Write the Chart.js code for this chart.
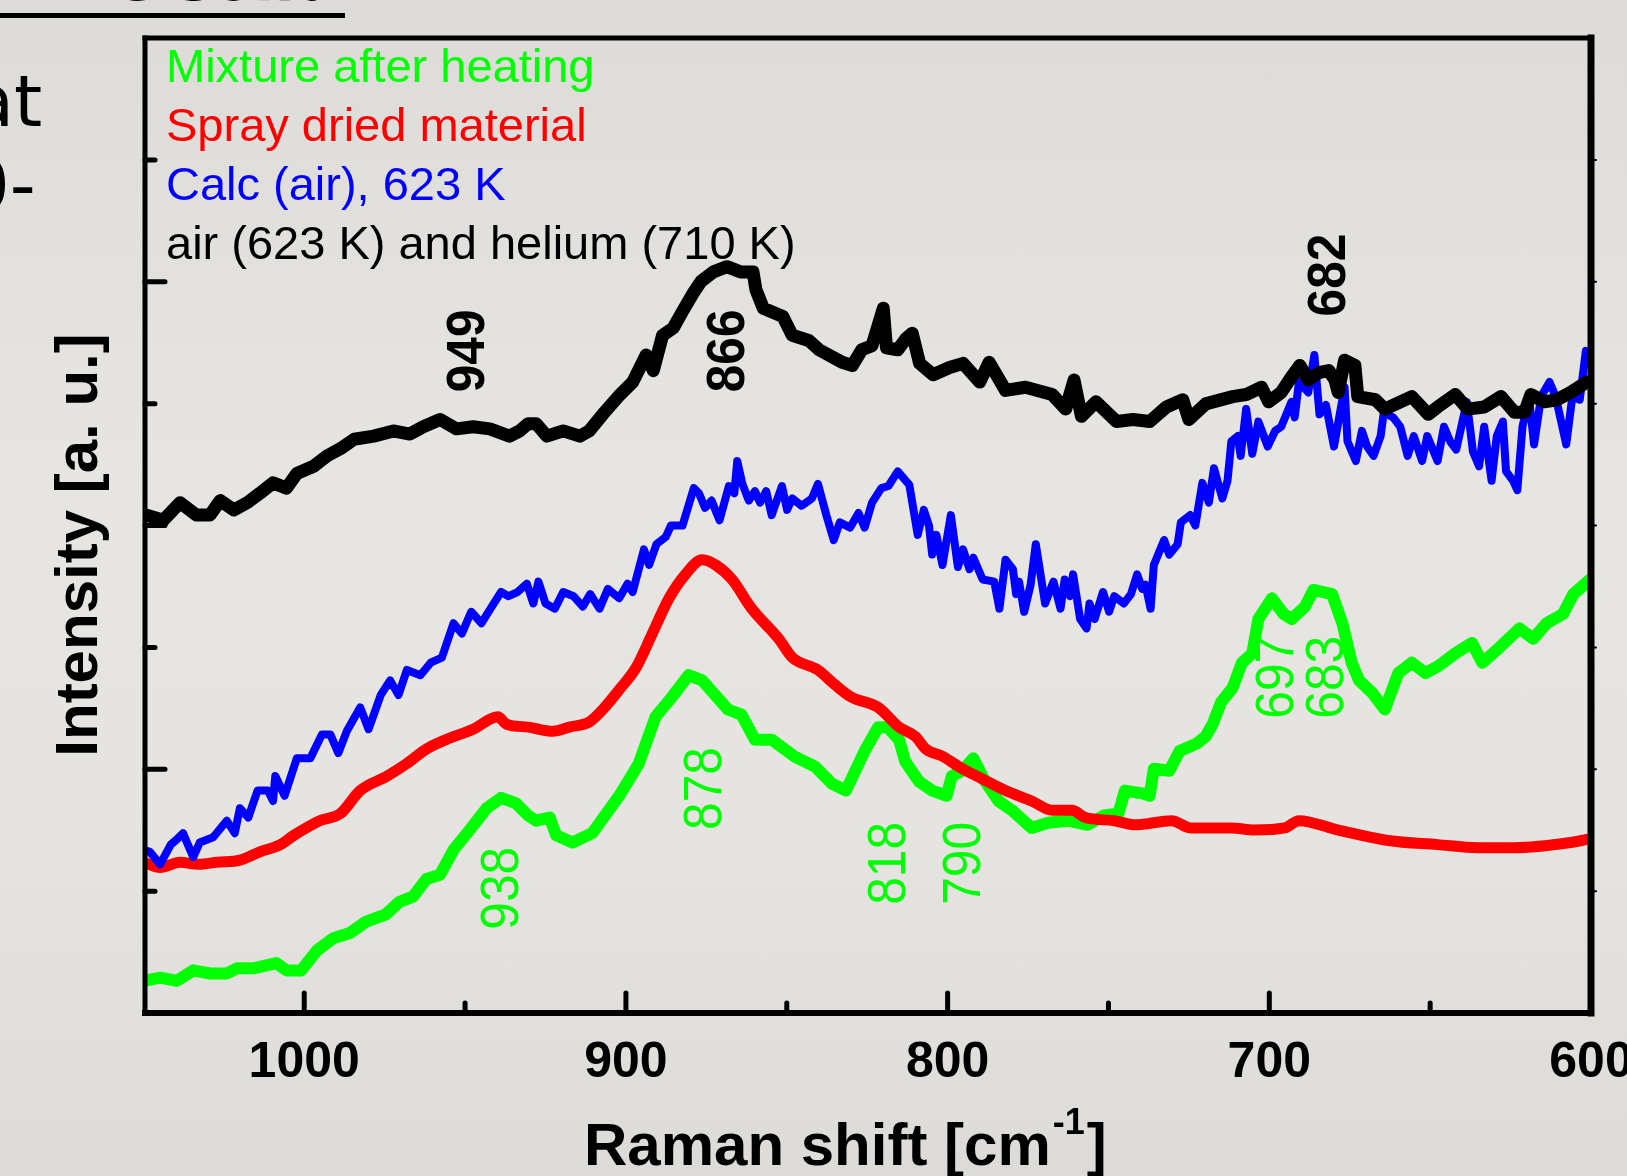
<!DOCTYPE html>
<html>
<head>
<meta charset="utf-8">
<script src="https://cdn.jsdelivr.net/npm/chart.js@4.4.1/dist/chart.umd.min.js"></script>
<style>
html,body{margin:0;padding:0;}
body{width:1627px;height:1176px;overflow:hidden;position:relative;
  background:linear-gradient(to bottom,#dcdbd7 0%,#e6e5e2 40%,#e5e4e1 70%,#dcdbd7 100%);}
#wrap{position:absolute;left:0;top:0;width:1627px;height:1176px;}
.slide{position:absolute;color:#000;font-family:"DejaVu Sans",sans-serif;white-space:nowrap;line-height:70px;}
</style>
</head>
<body>
<div class="slide" style="left:44px;top:-56px;font-size:60px;font-weight:bold;">the solid</div>
<div style="position:absolute;left:0;top:13px;width:345px;height:5px;background:#000;"></div>
<div class="slide" style="left:-30px;top:66px;font-size:72px;">at</div>
<div class="slide" style="left:-36px;top:150px;font-size:72px;">0-</div>
<div id="wrap"><canvas id="chart-raman"></canvas></div>
<script>
// legend order (top to bottom in the plot)
const seriesNames = ['Mixture after heating', 'Spray dried material', 'Calc (air), 623 K', 'air (623 K) and helium (710 K)'];

// air (623 K) and helium (710 K)
const airShift = [1049.0,1043.8,1038.6,1033.5,1029.3,1026.1,1021.9,1017.7,1013.8,1009.7,1005.5,1002.3,997.1,992.9,988.7,984.5,978.4,972.3,967.2,963.0,957.8,952.7,947.5,942.3,936.2,933.0,930.4,927.9,924.6,919.5,914.3,911.4,907.2,901.8,897.9,893.7,891.5,888.6,885.3,882.4,879.2,876.6,872.8,868.6,864.4,860.5,859.6,857.3,851.2,848.3,843.2,839.9,832.8,829.6,826.7,823.5,820.0,819.0,815.5,812.9,811.0,808.7,804.5,799.4,795.2,790.0,787.1,782.0,775.8,767.5,763.3,760.7,758.4,753.9,747.5,742.4,737.2,732.0,726.9,725.0,719.8,711.4,707.2,702.4,700.2,696.3,693.1,690.5,687.9,684.7,681.5,679.6,678.6,676.6,673.4,672.5,667.0,664.1,655.7,650.6,647.7,642.2,638.3,633.2,628.0,623.8,620.6,618.7,614.5,610.6,606.4,601.3];
const airInt = [479,474,491,479,479,493,484,491,500,510,505,519,526,536,543,552,555,560,557,564,571,562,564,562,555,560,567,567,555,560,555,560,576,595,607,633,618,652,659,675,692,704,713,718,713,713,696,678,670,652,647,638,626,623,638,642,678,640,638,649,654,625,614,621,625,607,626,599,602,595,581,609,574,588,569,571,569,583,590,571,586,593,595,602,588,597,612,623,609,616,618,609,597,628,623,593,590,581,593,576,583,595,581,583,593,578,578,595,588,590,597,607];

// Calc (air), 623 K
const calcShift = [1049.9,1048.0,1044.8,1041.5,1039.6,1037.7,1034.5,1032.5,1028.3,1024.1,1021.6,1020.0,1017.4,1014.5,1011.3,1009.7,1009.0,1006.1,1002.3,998.1,994.5,991.9,989.4,986.8,982.6,980.0,976.2,973.3,970.7,968.1,963.9,960.7,957.2,953.6,951.0,948.1,944.9,941.7,938.8,936.5,933.7,930.8,928.8,927.2,925.0,922.1,919.5,916.3,913.4,911.1,908.2,905.6,902.1,899.5,897.9,894.4,892.8,890.5,887.6,886.0,882.4,878.9,877.3,875.4,873.4,870.9,868.0,866.3,865.4,863.8,861.8,859.9,858.3,856.4,854.7,851.5,849.9,848.3,845.4,842.2,840.3,837.7,835.4,833.5,830.3,827.7,825.8,823.5,820.6,818.4,815.5,811.9,809.3,807.4,805.8,804.8,803.5,801.6,799.0,796.8,795.2,793.2,792.0,789.1,785.5,783.9,782.0,779.7,778.7,777.8,776.2,774.2,772.6,769.7,767.1,764.9,763.6,762.0,761.0,758.8,756.8,755.9,754.3,751.7,749.8,748.2,745.2,743.0,741.1,739.5,738.5,736.9,735.9,732.7,731.1,728.5,727.5,724.6,723.0,720.8,718.8,717.2,714.6,713.0,711.8,709.8,708.9,707.2,705.3,703.4,700.5,698.2,696.3,693.1,692.1,690.8,687.9,686.0,684.4,682.4,679.9,676.6,675.7,673.1,671.2,669.6,667.6,665.4,664.4,661.5,659.3,657.0,655.1,652.5,650.9,647.7,645.7,643.8,641.9,638.6,636.7,634.8,633.2,630.9,629.3,627.4,626.4,624.2,622.9,621.3,619.3,617.7,615.5,612.9,611.0,607.7,605.8,603.5,601.6];
const calcInt = [157,155,143,162,167,173,150,164,169,185,173,197,188,214,214,204,228,209,245,245,268,268,250,271,294,273,306,320,306,330,325,337,342,375,365,386,375,391,405,401,405,413,394,415,394,389,405,401,391,403,389,408,399,413,405,446,431,451,458,469,469,505,500,486,493,474,507,500,531,509,493,502,491,502,479,507,484,495,488,495,509,479,455,472,467,481,467,491,505,507,521,508,460,484,469,441,460,431,479,429,446,427,438,417,415,389,436,427,403,415,386,412,451,394,415,389,417,401,422,379,370,394,379,405,386,401,394,403,422,408,412,389,431,455,441,451,472,479,469,510,491,524,495,512,550,555,536,581,538,569,545,560,564,588,573,607,597,633,576,585,545,602,550,531,560,545,536,555,578,573,564,536,555,531,555,531,564,550,542,588,540,526,564,512,555,569,521,512,503,564,593,547,593,607,593,547,593,590,637];

// Spray dried material
const sprayShift = [1049.9,1044.8,1038.6,1032.9,1027.1,1020.0,1013.8,1007.4,1003.2,995.2,988.7,982.6,974.2,968.1,962.0,955.9,947.5,939.8,937.2,930.4,922.7,917.6,911.4,907.2,902.1,896.9,891.8,886.6,881.5,876.3,872.1,867.0,860.9,852.5,848.3,840.3,835.1,830.0,821.6,815.1,810.0,806.8,801.6,796.5,789.1,782.0,773.9,767.5,761.3,757.2,748.2,741.7,730.4,724.3,711.8,704.7,695.3,690.8,678.6,663.1,647.7,635.1,623.8,606.4,601.3];
const sprayInt = [145,140,145,143,145,147,155,162,171,185,192,214,228,240,254,263,273,285,278,275,271,275,280,292,311,332,365,399,422,436,431,417,389,360,342,330,316,304,294,275,266,254,247,237,225,214,204,195,195,188,185,181,185,178,178,176,178,185,176,166,162,159,159,164,167];

// Mixture after heating
const mixShift = [1049.9,1044.8,1039.6,1034.5,1029.3,1024.1,1020.9,1015.8,1008.7,1005.5,1001.0,996.1,991.0,985.8,980.7,974.6,970.4,966.2,962.0,957.8,953.6,949.4,943.3,938.8,934.3,930.4,927.9,923.7,921.7,916.6,910.5,902.1,896.0,890.8,885.7,880.5,876.3,868.3,864.1,859.9,854.7,847.7,841.2,836.1,831.6,825.8,821.6,818.7,815.1,813.2,809.0,804.8,800.3,798.7,795.5,792.0,788.4,784.2,780.0,773.9,768.8,762.6,756.5,751.4,746.9,744.9,739.1,737.2,735.9,731.1,727.9,722.7,719.8,717.6,715.0,711.4,708.5,705.3,703.4,699.2,695.6,693.1,688.9,686.3,680.5,677.3,674.4,672.1,668.0,664.1,659.9,655.7,651.5,647.3,642.2,637.0,633.8,628.7,622.2,618.0,613.8,608.7,605.5,600.3];
const mixInt = [31,34,31,41,38,38,43,43,48,41,41,60,72,77,88,95,107,112,129,133,157,173,197,207,202,190,185,188,171,164,173,209,240,285,304,325,320,292,287,263,263,247,237,221,214,252,275,275,263,242,223,214,209,228,233,245,223,204,195,178,183,185,181,190,192,214,211,209,235,233,252,259,266,278,299,313,337,346,379,399,384,379,391,407,403,375,337,320,308,292,327,337,327,334,346,356,337,351,370,360,375,384,403,417];

// band positions written on the plot
const peakText = ['949', '866', '682', '938', '878', '818', '790', '697', '683'];
const peakShift = [948.8, 868, 681, 938.2, 875, 818, 794.5, 697.3, 681.8];
const peakInt = [637, 637, 710, 120, 216, 144, 144, 323, 323];
const peakSeries = [3, 3, 3, 0, 0, 0, 0, 0, 0];

const colors = ['#00ff00', '#ff0000', '#0000ff', '#000000'];
const yStep = 117.25;
const FONT = '"Liberation Sans", Arial, sans-serif';

function pairs(xs, ys) {
  return xs.map((v, i) => ({x: v, y: ys[i]}));
}

function line(ctx, x1, y1, x2, y2) {
  ctx.beginPath();
  ctx.moveTo(x1, y1);
  ctx.lineTo(x2, y2);
  ctx.stroke();
}

// legend text in the top left corner, under the curves
const legendText = {
  id: 'legendText',
  beforeDatasetsDraw(chart) {
    const ctx = chart.ctx, a = chart.chartArea;
    ctx.save();
    ctx.font = '47px ' + FONT;
    ctx.textAlign = 'left';
    ctx.textBaseline = 'alphabetic';
    seriesNames.forEach((name, i) => {
      ctx.fillStyle = colors[i];
      ctx.fillText(name, a.left + 21, a.top + 44 + i * 59);
    });
    ctx.restore();
  }
};

// frame, inward ticks, peak labels and axis titles
const frame = {
  id: 'frame',
  afterDatasetsDraw(chart) {
    const ctx = chart.ctx, a = chart.chartArea;
    const x = chart.scales.x, y = chart.scales.y;
    ctx.save();
    ctx.strokeStyle = '#000';
    ctx.lineCap = 'round';
    ctx.lineWidth = 5;
    for (let v = 650; v <= 1000; v += 50) {
      const px = x.getPixelForValue(v);
      line(ctx, px, a.bottom, px, a.bottom - (v % 100 === 0 ? 20 : 10));
    }
    for (let i = 1; i < 8; i++) {
      const py = y.getPixelForValue(i * yStep);
      line(ctx, a.left, py, a.left + (i % 2 === 0 ? 20 : 10), py);
    }
    ctx.lineWidth = 2;
    for (let i = 1; i < 8; i++) {
      const py = y.getPixelForValue(i * yStep);
      line(ctx, a.right, py, a.right + 5, py);
    }
    ctx.lineCap = 'square';
    ctx.lineWidth = 5;
    line(ctx, a.left, a.top, a.right, a.top);
    line(ctx, a.left, a.top, a.left, a.bottom);
    ctx.lineWidth = 6;
    line(ctx, a.left, a.bottom, a.right, a.bottom);
    ctx.lineWidth = 7;
    line(ctx, a.right, a.top, a.right, a.bottom);

    // band labels, rotated
    peakText.forEach((t, i) => {
      const s = peakSeries[i];
      ctx.save();
      ctx.translate(x.getPixelForValue(peakShift[i]), y.getPixelForValue(peakInt[i]));
      ctx.rotate(-Math.PI / 2);
      ctx.scale(0.92, 1);
      ctx.fillStyle = colors[s];
      ctx.font = (s === 3 ? 'bold ' : '') + '54px ' + FONT;
      ctx.textAlign = 'center';
      ctx.textBaseline = 'middle';
      ctx.fillText(t, 0, 0);
      ctx.restore();
    });
    ctx.restore();
  },
  afterDraw(chart) {
    const ctx = chart.ctx;
    ctx.save();
    ctx.fillStyle = '#000';
    ctx.textBaseline = 'alphabetic';
    ctx.textAlign = 'left';
    // x title with superscript
    ctx.font = 'bold 60px ' + FONT;
    const main = 'Raman shift [cm';
    let px = 584;
    ctx.fillText(main, px, 1165);
    px += ctx.measureText(main).width + 2;
    ctx.font = 'bold 36px ' + FONT;
    ctx.fillText('-1', px, 1134);
    px += ctx.measureText('-1').width + 2;
    ctx.font = 'bold 60px ' + FONT;
    ctx.fillText(']', px, 1165);
    // y title
    ctx.translate(97, 545);
    ctx.rotate(-Math.PI / 2);
    ctx.textAlign = 'center';
    ctx.fillText('Intensity [a. u.]', 0, 0);
    ctx.restore();
  }
};

const common = {fill: false, pointRadius: 0, tension: 0, borderJoinStyle: 'round', borderCapStyle: 'round'};

new Chart(document.getElementById('chart-raman'), {
  type: 'line',
  data: {
    datasets: [
      Object.assign({label: seriesNames[3], data: pairs(airShift, airInt), borderColor: colors[3], borderWidth: 13}, common),
      Object.assign({label: seriesNames[2], data: pairs(calcShift, calcInt), borderColor: colors[2], borderWidth: 8}, common),
      Object.assign({label: seriesNames[1], data: pairs(sprayShift, sprayInt), borderColor: colors[1], borderWidth: 11}, common, {cubicInterpolationMode: 'monotone'}),
      Object.assign({label: seriesNames[0], data: pairs(mixShift, mixInt), borderColor: colors[0], borderWidth: 12}, common)
    ]
  },
  options: {
    responsive: true,
    maintainAspectRatio: false,
    animation: false,
    events: [],
    layout: {padding: {left: 145, top: 38, right: 36, bottom: 0}},
    plugins: {legend: {display: false}, tooltip: {enabled: false}},
    scales: {
      x: {
        type: 'linear',
        reverse: true,
        min: 600,
        max: 1049.5,
        grid: {display: false, drawTicks: false},
        border: {display: false},
        ticks: {
          stepSize: 100,
          includeBounds: false,
          autoSkip: false,
          maxRotation: 0,
          color: '#000',
          padding: 20,
          font: {family: FONT, size: 50, weight: 'bold'},
          callback: (v) => String(v)
        },
        afterFit(s) {
          s.height = 163;
          s.paddingLeft = 0;
          s.paddingRight = 0;
        }
      },
      y: {
        type: 'linear',
        display: false,
        min: 0,
        max: 938
      }
    }
  },
  plugins: [legendText, frame]
});
</script>
</body>
</html>
